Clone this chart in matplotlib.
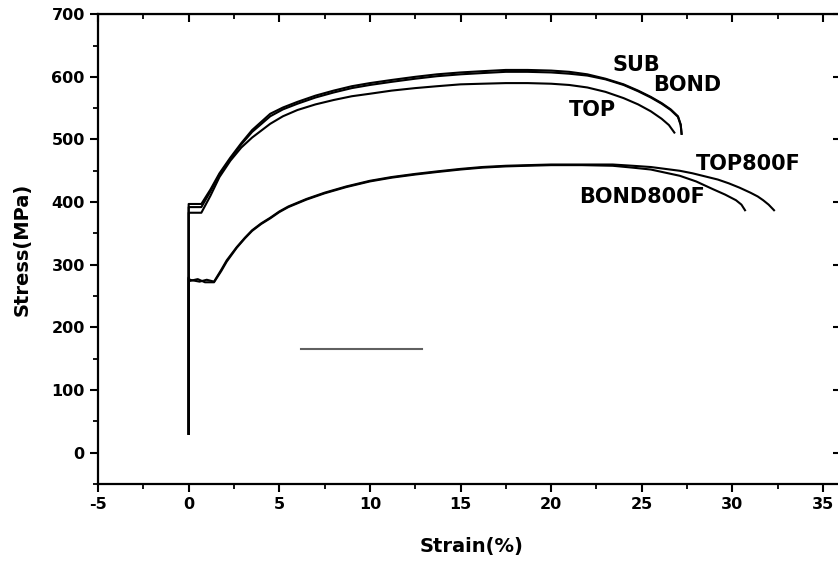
import matplotlib
matplotlib.use("Agg")
import matplotlib.pyplot as plt
from matplotlib.ticker import MultipleLocator

plt.rcParams["font.family"] = ["DejaVu Sans"]
plt.rcParams["axes.unicode_minus"] = False

# stress-strain curves
sub_strain = [0, 0, 0.05, 0.7, 1.2, 1.7, 2.3, 2.9, 3.5, 4.5, 5.2, 6, 7, 8, 9, 10, 11.2, 12.5, 13.7, 15, 16.2,
              17.5, 18.7, 20, 21, 22, 23, 24, 24.8, 25.5, 26.1, 26.6, 27.0, 27.15, 27.2]
sub_stress = [30, 397, 397, 397, 420, 446, 471, 494, 515, 541, 551, 560, 570, 578, 585, 590, 595, 600, 604, 607, 609,
              611, 611, 610, 608, 604, 597, 588, 578, 568, 558, 548, 537, 524, 509]

bond_strain = [0, 0, 0.05, 0.7, 1.2, 1.7, 2.3, 2.9, 3.5, 4.5, 5.2, 6, 7, 8, 9, 10, 11.2, 12.5, 13.7, 15, 16.2,
               17.5, 18.7, 20, 21, 22, 23, 24, 24.8, 25.5, 26.1, 26.6, 27.0, 27.15, 27.2]
bond_stress = [30, 392, 392, 392, 417, 444, 469, 492, 512, 537, 548, 557, 567, 575, 582, 587, 592, 597, 601, 604, 606,
               608, 608, 607, 605, 602, 596, 587, 577, 567, 557, 547, 536, 523, 509]

top_strain = [0, 0, 0.05, 0.7, 1.2, 1.7, 2.3, 2.9, 3.5, 4.5, 5.2, 6, 7, 8, 9, 10, 11.2, 12.5, 13.7, 15, 16.2,
              17.5, 18.7, 20, 21, 22, 23, 24, 24.8, 25.5, 26.1, 26.5, 26.8]
top_stress = [30, 383, 383, 383, 410, 440, 466, 487, 503, 525, 537, 547, 556, 563, 569, 573, 578, 582, 585, 588, 589,
              590, 590, 589, 587, 583, 576, 566, 556, 545, 533, 523, 511]

top800_strain = [0, 0, 0.05, 0.6, 1.0, 1.4, 1.8, 2.1, 2.65, 3.1, 3.5, 4.0, 4.5, 5.0, 5.5, 6.5, 7.5, 8.7, 10, 11.2, 12.5,
                 13.7, 15, 16.2, 17.5, 18.7, 20, 21.7, 23.4, 24.5, 25.5, 26.3, 27.1, 27.8, 28.5, 29.2, 29.8, 30.4,
                 31.0, 31.4, 31.7, 32.0, 32.3]
top800_stress = [30, 280, 276, 273, 276, 273, 292, 307, 328, 343, 355, 366, 375, 385, 393, 405, 415, 425, 434, 440, 445,
                 449, 453, 456, 458, 459, 460, 460, 460, 458, 456, 453, 450, 446, 441, 436, 430, 423, 415, 409, 403,
                 396, 387]

bond800_strain = [0, 0, 0.05, 0.5, 0.9, 1.4, 1.8, 2.1, 2.65, 3.1, 3.5, 4.0, 4.5, 5.0, 5.5, 6.5, 7.5, 8.7, 10, 11.2, 12.5,
                  13.7, 15, 16.2, 17.5, 18.7, 20, 21.7, 23.4, 24.5, 25.5, 26.3, 27.1, 28.0, 28.9, 29.6, 30.2, 30.5,
                  30.7]
bond800_stress = [30, 278, 274, 277, 272, 272, 290, 305, 327, 342, 354, 365, 374, 384, 392, 404, 414, 424, 433, 439, 444,
                  448, 452, 455, 457, 458, 459, 459, 458, 455, 452, 447, 442, 433, 421, 412, 403, 396, 387]

# stray grey segment in the original scan
grey_strain = [6.2, 12.9]
grey_stress = [165.5, 165.5]

labels = ["SUB", "BOND", "TOP", "TOP800F", "BOND800F"]
label_pos = [(24.7, 619), (27.5, 587), (22.3, 547), (30.9, 461), (25.0, 408)]

fig = plt.figure(figsize=(8.38, 5.68), dpi=100)
# right spine sits just past the image edge, as in the scan
ax = fig.add_axes([0.117, 0.148, 0.891, 0.827])

for xs, ys in [(sub_strain, sub_stress), (bond_strain, bond_stress), (top_strain, top_stress),
               (top800_strain, top800_stress), (bond800_strain, bond800_stress)]:
    ax.plot(xs, ys, color="black", lw=1.5)

ax.plot(grey_strain, grey_stress, color="#606060", lw=1.5)

for text, (x, y) in zip(labels, label_pos):
    ax.text(x, y, text, ha="center", va="center", fontsize=15, fontweight="bold")

ax.set_xlim(-5, 36.2)
ax.set_ylim(-50, 700)
ax.xaxis.set_major_locator(MultipleLocator(5))
ax.xaxis.set_minor_locator(MultipleLocator(2.5))
ax.yaxis.set_major_locator(MultipleLocator(100))
ax.yaxis.set_minor_locator(MultipleLocator(50))

for side in ax.spines.values():
    side.set_linewidth(1.6)

ax.tick_params(which="major", direction="out", length=6, width=1.5, labelsize=11.5)
ax.tick_params(which="minor", direction="out", length=3.5, width=1.3)
for lab in ax.get_xticklabels() + ax.get_yticklabels():
    lab.set_fontweight("bold")

# mirrored ticks pointing inward on the top and right edges
top = ax.secondary_xaxis("top")
top.xaxis.set_major_locator(MultipleLocator(5))
top.xaxis.set_minor_locator(MultipleLocator(2.5))
top.tick_params(which="major", direction="in", length=6, width=1.5, labeltop=False)
top.tick_params(which="minor", direction="in", length=3.5, width=1.3)
right = ax.secondary_yaxis("right")
right.yaxis.set_major_locator(MultipleLocator(100))
right.yaxis.set_minor_locator(MultipleLocator(50))
right.tick_params(which="major", direction="in", length=9, width=1.5, labelright=False)
right.tick_params(which="minor", direction="in", length=4, width=1.3)

ax.set_xlabel("Strain(%)", fontsize=14, fontweight="bold", labelpad=18)
ax.set_ylabel("Stress(MPa)", fontsize=14, fontweight="bold", labelpad=14)

fig.savefig("out.png", dpi=100)
